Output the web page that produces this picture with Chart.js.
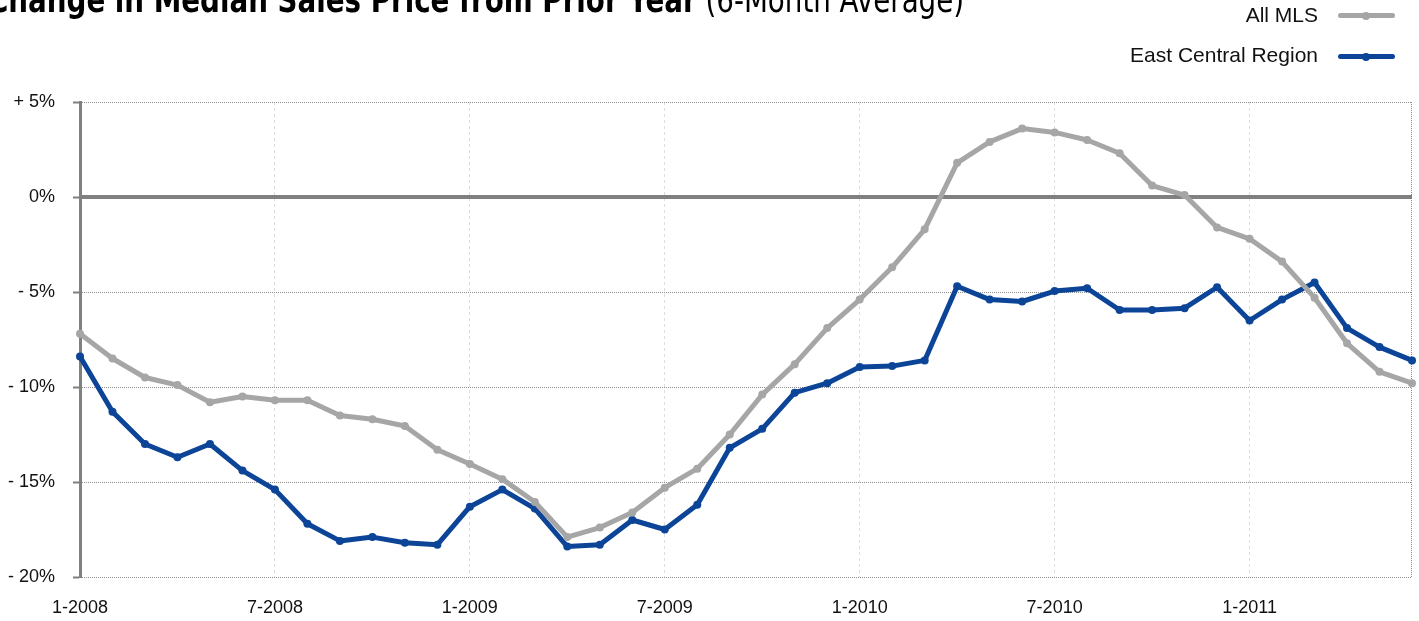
<!DOCTYPE html>
<html>
<head>
<meta charset="utf-8">
<script src="https://cdn.jsdelivr.net/npm/chart.js@4.4.1/dist/chart.umd.min.js"></script>
<style>
  html, body { margin: 0; padding: 0; background: #fff; overflow: hidden; }
  #wrap { position: relative; width: 1419px; height: 621px; }
  #chart { position: absolute; left: 0; top: 0; }
  .title {
    position: absolute; left: -12px; top: -18px; white-space: nowrap; line-height: 36px;
    font-family: "Liberation Sans Narrow", "DejaVu Sans Condensed", "Liberation Sans", sans-serif;
    font-stretch: condensed; font-size: 36px; color: #000;
    transform: scaleX(0.856); transform-origin: 0 0;
  }
  .title b { font-weight: bold; }
  .title span { font-weight: normal; }
  .legend { position: absolute; right: 101px; font: 21px "Liberation Sans", Arial, sans-serif; color: #111; white-space: nowrap; }
  .swatch { position: absolute; left: 1338px; width: 57px; height: 5px; border-radius: 3px; }
  .swatch i { position: absolute; left: 24px; top: -1.5px; width: 8px; height: 8px; border-radius: 50%; }
</style>
</head>
<body>
<div id="wrap">
  <canvas id="chart" width="1419" height="621"></canvas>
  <div class="title"><b>Change in Median Sales Price from Prior Year</b> <span>(6-Month Average)</span></div>
  <div class="legend" style="top:3px">All MLS</div>
  <div class="swatch" style="top:13px;background:#a6a6a6"><i style="background:#a6a6a6"></i></div>
  <div class="legend" style="top:43px">East Central Region</div>
  <div class="swatch" style="top:54px;background:#0c4597"><i style="background:#0c4597"></i></div>
</div>
<script>
/* Change in median sales price from prior year, 6-month average, Jan 2008 – Jun 2011 */
const MONTHS = [
  "1-2008", "2-2008", "3-2008", "4-2008", "5-2008", "6-2008", "7-2008", "8-2008", "9-2008", "10-2008", "11-2008", "12-2008",
  "1-2009", "2-2009", "3-2009", "4-2009", "5-2009", "6-2009", "7-2009", "8-2009", "9-2009", "10-2009", "11-2009", "12-2009",
  "1-2010", "2-2010", "3-2010", "4-2010", "5-2010", "6-2010", "7-2010", "8-2010", "9-2010", "10-2010", "11-2010", "12-2010",
  "1-2011", "2-2011", "3-2011", "4-2011", "5-2011", "6-2011",
];
const ALL_MLS = [
  -7.2, -8.5, -9.5, -9.9, -10.8, -10.5, -10.7, -10.7, -11.5, -11.7, -12.05, -13.3,
  -14.05, -14.85, -16.05, -17.9, -17.4, -16.6, -15.3, -14.3, -12.5, -10.4, -8.8, -6.9,
  -5.4, -3.7, -1.7, 1.8, 2.9, 3.6, 3.4, 3.0, 2.3, 0.6, 0.1, -1.6,
  -2.2, -3.4, -5.3, -7.7, -9.2, -9.8,
];
const EAST_CENTRAL = [
  -8.4, -11.3, -13.0, -13.7, -13.0, -14.4, -15.4, -17.2, -18.1, -17.9, -18.2, -18.3,
  -16.3, -15.4, -16.4, -18.4, -18.3, -17.0, -17.5, -16.2, -13.2, -12.2, -10.3, -9.8,
  -8.95, -8.9, -8.6, -4.7, -5.4, -5.5, -4.95, -4.8, -5.95, -5.95, -5.85, -4.75,
  -6.5, -5.4, -4.5, -6.9, -7.9, -8.6,
];
const Y_TICKS = { "5": "+ 5%", "0": "0%", "-5": "- 5%", "-10": "- 10%", "-15": "- 15%", "-20": "- 20%" };

const COL = { mls: "#a6a6a6", region: "#0c4597", axis: "#808080", grid: "#8c8c8c", vgrid: "#dedede" };

Chart.defaults.font.family = "'Liberation Sans', Arial, Helvetica, sans-serif";
Chart.defaults.font.size = 18;
Chart.defaults.color = "#111";

// zero line + dotted right frame, drawn from the y scale
const frame = {
  id: "frame",
  beforeDatasetsDraw(chart) {
    const { ctx, chartArea: a, scales: { y } } = chart;
    ctx.save();
    ctx.strokeStyle = COL.grid; ctx.lineWidth = 1; ctx.setLineDash([1, 1]);
    ctx.beginPath(); ctx.moveTo(a.right - 0.5, a.top); ctx.lineTo(a.right - 0.5, a.bottom); ctx.stroke();
    ctx.setLineDash([]);
    ctx.strokeStyle = COL.axis; ctx.lineWidth = 4;
    const y0 = y.getPixelForValue(0);
    ctx.beginPath(); ctx.moveTo(a.left, y0); ctx.lineTo(a.right, y0); ctx.stroke();
    ctx.restore();
  },
};

const line = (label, data, color) => ({
  label, data, borderColor: color, backgroundColor: color,
  borderWidth: 5, pointRadius: 4, pointBorderWidth: 0, pointHoverRadius: 4, tension: 0,
  borderJoinStyle: "round", borderCapStyle: "round",
});

new Chart(document.getElementById("chart"), {
  type: "line",
  data: {
    labels: MONTHS,
    datasets: [line("All MLS", ALL_MLS, COL.mls), line("East Central Region", EAST_CENTRAL, COL.region)],
  },
  options: {
    responsive: false, animation: false,
    layout: { padding: { top: 102, right: 7, left: 0, bottom: 0 } },
    plugins: { legend: { display: false }, tooltip: { enabled: false } },
    scales: {
      x: {
        afterFit: (s) => { s.height = 44; s.paddingRight = 0; s.paddingLeft = 0; },
        grid: { color: (c) => (c.index > 0 && c.index % 6 === 0 ? COL.vgrid : "transparent"), drawTicks: false },
        border: { display: false, dash: [3, 3] },
        ticks: { autoSkip: false, maxRotation: 0, padding: 20, callback: (v, i) => (i % 6 === 0 ? MONTHS[i] : "") },
      },
      y: {
        min: -20, max: 5,
        afterFit: (s) => { s.width = 80; },
        grid: { color: (c) => (c.tick && c.tick.value === 0 ? "transparent" : COL.grid), tickColor: COL.axis, tickLength: 7, tickWidth: 2 },
        border: { color: COL.axis, width: 3, dash: [1, 1] },
        ticks: { stepSize: 5, padding: 18, callback: (v) => Y_TICKS[String(v)] },
      },
    },
  },
  plugins: [frame],
});
</script>
</body>
</html>
